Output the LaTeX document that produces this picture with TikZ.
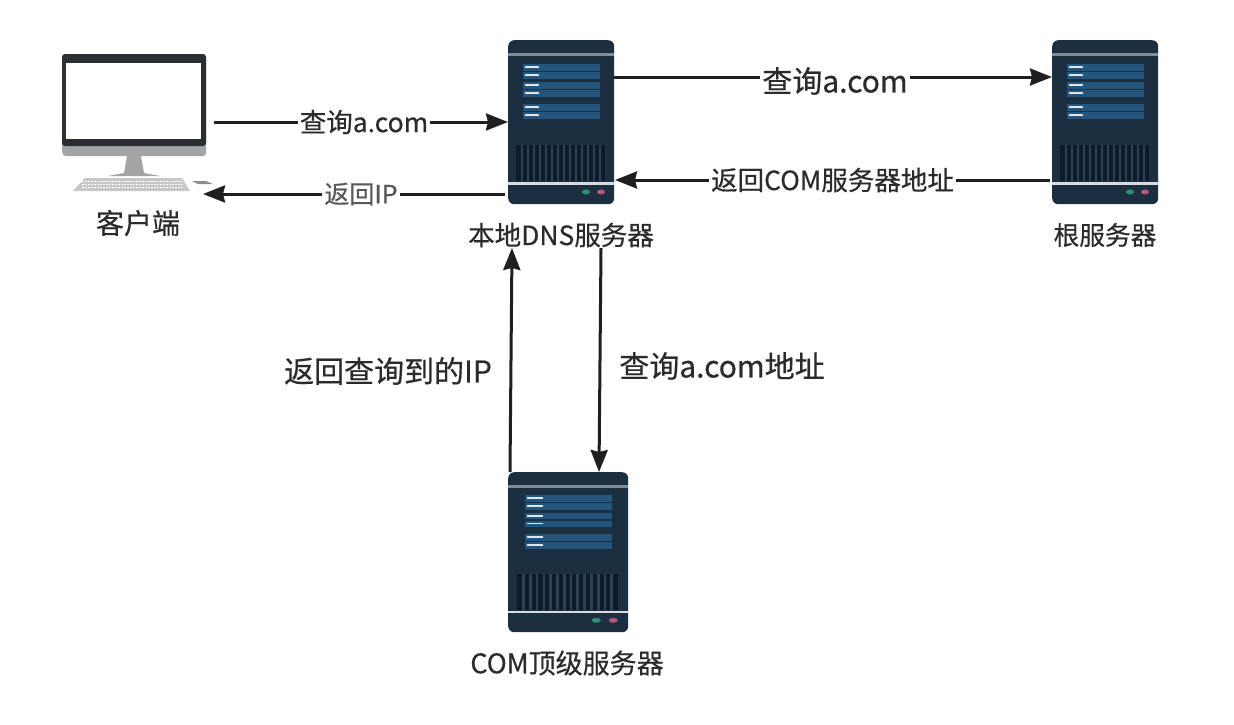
\documentclass[tikz,border=0pt]{standalone}
\usepackage{fontspec}
\setmainfont[FakeBold=0.5]{Noto Sans CJK SC}
\usetikzlibrary{arrows.meta}
\definecolor{srvbody}{HTML}{1B2F40}
\definecolor{srvpanel}{HTML}{24557C}
\definecolor{srvband}{HTML}{7F8B95}
\definecolor{srvgrille}{HTML}{0E1A28}
\definecolor{srvslot}{HTML}{2A4157}
\definecolor{ledgreen}{HTML}{2E8F74}
\definecolor{ledpink}{HTML}{B5527A}
\definecolor{pcdark}{HTML}{2C2E31}
\definecolor{pcgray}{HTML}{A2A4A6}
\definecolor{txt}{HTML}{2B2B2B}
\tikzset{
  srv/.style={draw=none,fill=srvbody,rounded corners=6pt,inner sep=0pt},
  conn/.style={draw=black!88,line width=3pt,-{Stealth[length=22pt,width=17pt,inset=2pt]}},
  lab/.style={fill=white,text=txt,inner xsep=2pt,inner ysep=0pt},
  captext/.style={text=txt,inner sep=0pt}
}
% #1 name, #2 left, #3 top, #4 width, #5 height
\newcommand{\srvdraw}[5]{%
  \node[srv,anchor=north west,minimum width=#4pt,minimum height=#5pt] (#1) at (#2,#3) {};
  \begin{scope}[shift={(#2,#3)},x=#4pt/106,y=-#5pt/164]
    \fill[srvband] (0,13) rectangle (106,16);
    \foreach \r in {24,32,42,50,64,72}{
      \fill[srvpanel] (15,\r) rectangle (92,\r+6.5);
      \fill[white!85!srvpanel] (16.5,\r+1.8) rectangle (31,\r+3.8);
    }
    \fill[srvgrille] (8,105) rectangle (97,141);
    \foreach \g in {12.5,18.5,...,96}{\fill[srvslot] (\g,105) rectangle (\g+2.4,141);}
    \fill[white!70!srvband] (0,142) rectangle (106,144.5);
    \fill[ledgreen] (78,152) ellipse (4 and 2.6);
    \fill[ledpink] (93,152) ellipse (4 and 2.6);
  \end{scope}
}
\begin{document}
\begin{tikzpicture}[x=1pt,y=-1pt]
\useasboundingbox (0,0) rectangle (1234,724);
\fill[white] (0,0) rectangle (1234,724);

% client
\node[draw=none,fill=pcgray,rounded corners=4pt,anchor=north west,minimum width=144pt,minimum height=102pt,inner sep=0pt] (client) at (62,54) {};
\fill[pcdark,rounded corners=3pt] (62,54) rectangle (206,146);
\node[fill=white,anchor=north west,minimum width=135pt,minimum height=76pt,inner sep=0pt] (screen) at (66,63) {};
\fill[pcgray] (127,156) -- (141,156) -- (144,173) -- (160,176) -- (108,176) -- (124,173) -- cycle;
\fill[black!22] (85,178) -- (182,178) -- (190,191) -- (73,191) -- cycle;
\foreach \ky in {181,184,187}{\draw[white,line width=0.8pt,dash pattern=on 2pt off 1pt] (82,\ky) -- (183,\ky);}
\fill[black!45] (192,181) -- (206,181) -- (213,184) -- (198,184) -- cycle;

% servers
\srvdraw{local}{508}{40}{106}{164}
\srvdraw{root}{1052}{40}{106}{164}
\srvdraw{com}{508}{472}{120}{160}

% captions
\node[captext,font=\fontsize{28}{32}\selectfont] (cclient) at (138,223) {客户端};
\node[captext,font=\fontsize{26.5}{30}\selectfont] (clocal) at (561,235) {本地DNS服务器};
\node[captext,font=\fontsize{25.7}{30}\selectfont] (croot) at (1105,235) {根服务器};
\node[captext,font=\fontsize{27}{30}\selectfont] (ccom) at (567,663) {COM顶级服务器};

% connector ends
\coordinate (c1) at (214,122); \coordinate (l1) at (508,122);
\coordinate (l2) at (505,194); \coordinate (c2) at (203,194);
\coordinate (l3) at (614,77);  \coordinate (r3) at (1052,77);
\coordinate (r4) at (1050,180);\coordinate (l4) at (615,180);
\coordinate (l5) at (601,248); \coordinate (t5) at (599,472);
\coordinate (t6) at (510,472); \coordinate (l6) at (512,248);

\draw[conn] (c1) -- node[lab,font=\fontsize{26.5}{30}\selectfont,xshift=3pt] (q1) {查询a.com} (l1);
\draw[conn] (l2) -- node[lab,text=black!65,font=\fontsize{25}{28}\selectfont,xshift=7pt] (q2) {返回IP} (c2);
\draw[conn] (l3) -- node[lab,font=\fontsize{30}{34}\selectfont,xshift=2pt,yshift=-4pt] (q3) {查询a.com} (r3);
\draw[conn] (r4) -- node[lab,font=\fontsize{26.5}{30}\selectfont] (q4) {返回COM服务器地址} (l4);
\draw[conn] (l5) -- (t5);
\draw[conn] (t6) -- (l6);
\node[captext,font=\fontsize{30}{34}\selectfont] (q5) at (722,366) {查询a.com地址};
\node[captext,font=\fontsize{30}{34}\selectfont] (q6) at (388,371) {返回查询到的IP};
\end{tikzpicture}
\end{document}
